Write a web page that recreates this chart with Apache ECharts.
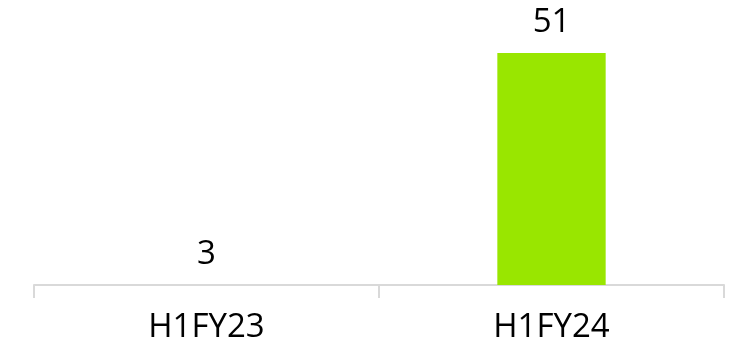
<!DOCTYPE html>
<html>
<head>
<meta charset="utf-8">
<title>H1FY</title>
<script src="https://cdn.jsdelivr.net/npm/echarts@6/dist/echarts.min.js"></script>
<style>
  html, body { margin: 0; padding: 0; background: #fff; }
  #chart { width: 744px; height: 361px; }
</style>
</head>
<body>
<div id="chart"></div>
<script>
// data
var categories = ['H1FY23', 'H1FY24'];
var values = [3, 51];

var myChart = echarts.init(document.getElementById('chart'));

var seriesData = [];
for (var i = 0; i < values.length; i++) {
  if (i == 0) {
    // first bar is not drawn in the reference, only its label
    seriesData.push({ value: values[i], itemStyle: { color: 'transparent' }, label: { distance: 0 } });
  } else {
    seriesData.push({ value: values[i] });
  }
}

var option = {
  animation: false,
  grid: { left: 34, right: 20, top: 12, bottom: 76 },
  xAxis: {
    type: 'category',
    data: categories,
    axisLine: { lineStyle: { color: '#d9d9d9', width: 2 } },
    axisTick: { show: true, length: 13, lineStyle: { color: '#d9d9d9', width: 2 } },
    axisLabel: { color: '#000', fontSize: 33, fontFamily: 'Open Sans', margin: 26 }
  },
  yAxis: {
    type: 'value',
    min: 0,
    max: 60,
    show: false,
    splitLine: { show: false }
  },
  series: [{
    type: 'bar',
    data: seriesData,
    barWidth: '31.4%',
    itemStyle: { color: '#99e600' },
    label: {
      show: true,
      position: 'top',
      distance: 14,
      color: '#000',
      fontSize: 33,
      fontFamily: 'Open Sans'
    }
  }]
};
myChart.setOption(option);
</script>
</body>
</html>
